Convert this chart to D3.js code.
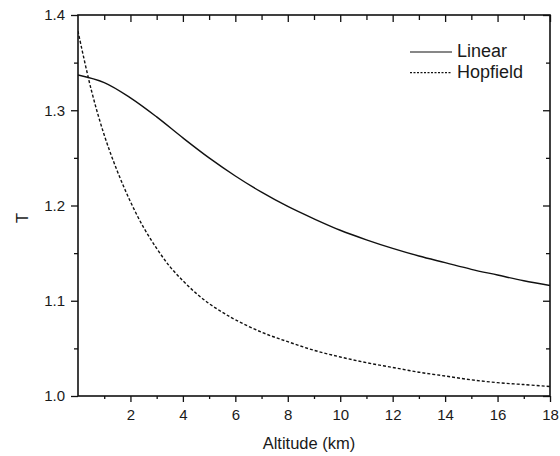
<!DOCTYPE html>
<html>
<head>
<meta charset="utf-8">
<script src="https://cdn.jsdelivr.net/npm/d3@7"></script>
<style>
  body { margin: 0; background: #fff; }
  text { font-family: Arial, "Liberation Sans", sans-serif; fill: #1a1a1a; }
</style>
</head>
<body>
<div id="chart"></div>
<script>
// Data
const linearAlt = [0, 1, 2, 3, 4, 5, 6, 7, 8, 9, 10, 11, 12, 13, 14, 15, 16, 17, 18];
const linearT = [1.337, 1.329, 1.313, 1.293, 1.271, 1.250, 1.231, 1.214, 1.199, 1.186, 1.174, 1.164, 1.155, 1.147, 1.140, 1.133, 1.127, 1.121, 1.116];

const hopAlt = [0, 0.5, 1, 1.5, 2, 2.5, 3, 3.5, 4, 4.5, 5, 5.5, 6, 7, 8, 9, 10, 11, 12, 13, 14, 15, 16, 17, 18];
const hopT = [1.383, 1.322, 1.274, 1.236, 1.204, 1.177, 1.155, 1.136, 1.121, 1.108, 1.097, 1.088, 1.080, 1.067, 1.057, 1.048, 1.041, 1.035, 1.030, 1.025, 1.021, 1.017, 1.014, 1.012, 1.010];

const xMajor = [2, 4, 6, 8, 10, 12, 14, 16, 18];
const xMinor = [1, 3, 5, 7, 9, 11, 13, 15, 17];
const yMajor = [1.0, 1.1, 1.2, 1.3, 1.4];
const yMinor = [1.05, 1.15, 1.25, 1.35];

const seriesNames = ["Linear", "Hopfield"];

// Size
const width = 560;
const height = 456;
const margin = { top: 15, right: 10, bottom: 60, left: 78 };

const svg = d3.select("#chart")
  .append("svg")
  .attr("width", width)
  .attr("height", height);

const xScale = d3.scaleLinear()
  .domain([0, 18])
  .range([margin.left, width - margin.right]);

const yScale = d3.scaleLinear()
  .domain([1.0, 1.4])
  .range([height - margin.bottom, margin.top]);

// clip for curves
svg.append("clipPath").attr("id", "clip")
  .append("rect")
  .attr("x", margin.left).attr("y", margin.top)
  .attr("width", xScale(18) - margin.left)
  .attr("height", yScale(1.0) - margin.top);

const line = d3.line()
  .x(d => xScale(d[0]))
  .y(d => yScale(d[1]))
  .curve(d3.curveCatmullRom.alpha(0.5));

svg.append("path")
  .datum(d3.zip(linearAlt, linearT))
  .attr("clip-path", "url(#clip)")
  .attr("fill", "none")
  .attr("stroke", "#111")
  .attr("stroke-width", 1.4)
  .attr("d", line);

svg.append("path")
  .datum(d3.zip(hopAlt, hopT))
  .attr("clip-path", "url(#clip)")
  .attr("fill", "none")
  .attr("stroke", "#111")
  .attr("stroke-width", 1.4)
  .attr("stroke-dasharray", "3,2")
  .attr("d", line);

// axes
const bottom = yScale(1.0);
const right = xScale(18);

function addAxis(axis, transform) {
  const g = svg.append("g").attr("transform", transform).call(axis);
  g.select(".domain").remove();
  g.selectAll("line").attr("stroke", "#111").attr("stroke-width", 1.3);
  g.selectAll("text").style("font-size", "15px").attr("fill", "#1a1a1a");
  return g;
}

addAxis(d3.axisBottom(xScale).tickValues(xMajor).tickSize(6).tickPadding(7).tickFormat(d3.format("d")),
  `translate(0,${bottom})`);
addAxis(d3.axisBottom(xScale).tickValues(xMinor).tickSize(3).tickFormat(""),
  `translate(0,${bottom})`);
addAxis(d3.axisTop(xScale).tickValues(xMajor).tickSize(-7).tickFormat(""),
  `translate(0,${margin.top})`);
addAxis(d3.axisTop(xScale).tickValues(xMinor).tickSize(-5).tickFormat(""),
  `translate(0,${margin.top})`);

addAxis(d3.axisLeft(yScale).tickValues(yMajor).tickSize(7).tickPadding(6).tickFormat(d3.format(".1f")),
  `translate(${margin.left},0)`);
addAxis(d3.axisLeft(yScale).tickValues(yMinor).tickSize(4).tickFormat(""),
  `translate(${margin.left},0)`);
addAxis(d3.axisRight(yScale).tickValues(yMajor).tickSize(-7).tickFormat(""),
  `translate(${right},0)`);
addAxis(d3.axisRight(yScale).tickValues(yMinor).tickSize(-4).tickFormat(""),
  `translate(${right},0)`);

// frame
svg.append("rect")
  .attr("x", margin.left)
  .attr("y", margin.top)
  .attr("width", right - margin.left)
  .attr("height", bottom - margin.top)
  .attr("fill", "none")
  .attr("stroke", "#111")
  .attr("stroke-width", 1.6);

// axis titles
svg.append("text")
  .attr("x", 309)
  .attr("y", 449)
  .attr("text-anchor", "middle")
  .style("font-size", "16.5px")
  .text("Altitude (km)");

svg.append("text")
  .attr("transform", "translate(28,218) rotate(-90)")
  .attr("text-anchor", "middle")
  .style("font-size", "16.5px")
  .text("T");

// legend
const legend = svg.append("g");
seriesNames.forEach((name, i) => {
  const ly = 52 + i * 20.6;
  legend.append("line")
    .attr("x1", 410).attr("x2", 452)
    .attr("y1", ly).attr("y2", ly)
    .attr("stroke", "#111")
    .attr("stroke-width", 1.1)
    .attr("stroke-dasharray", i === 1 ? "2,1.5" : null);
  legend.append("text")
    .attr("x", 457)
    .attr("y", ly + 5)
    .style("font-size", "18px")
    .text(name);
});
</script>
</body>
</html>
